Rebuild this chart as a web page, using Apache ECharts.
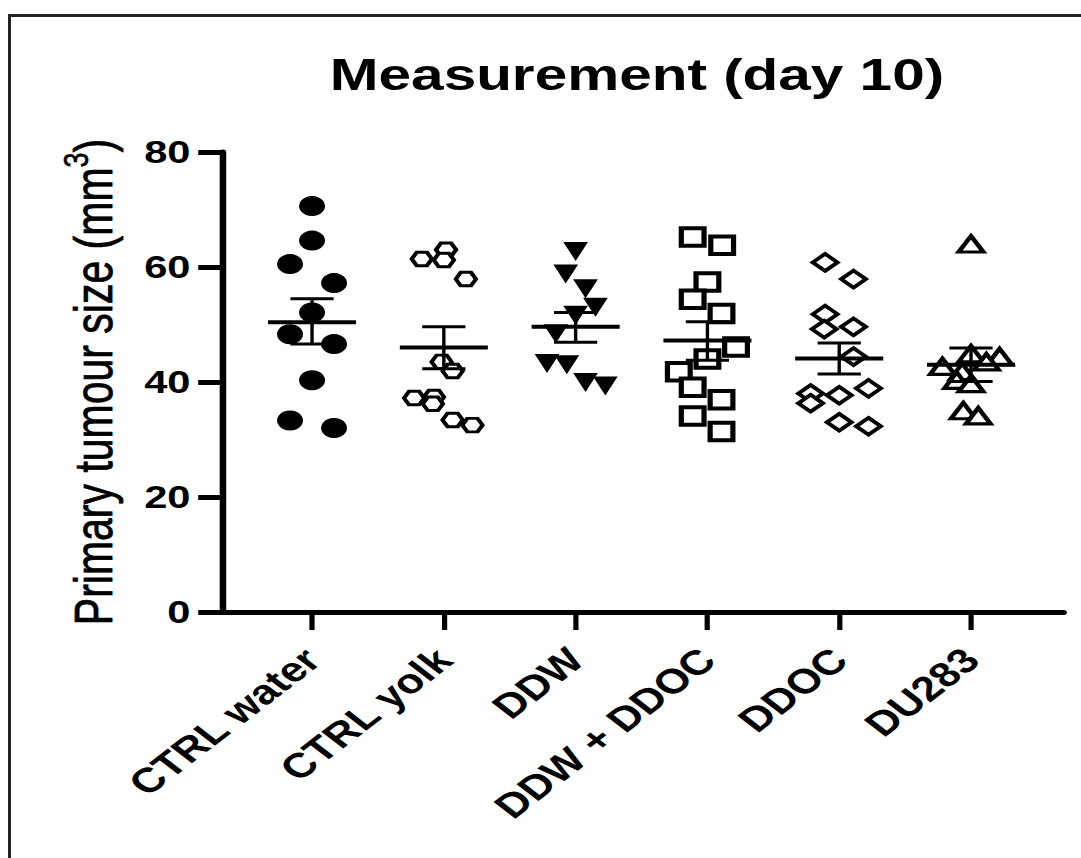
<!DOCTYPE html>
<html>
<head>
<meta charset="utf-8">
<script src="https://cdn.jsdelivr.net/npm/echarts@6/dist/echarts.min.js"></script>
<style>
html,body{margin:0;padding:0;background:#fff;overflow:hidden;width:1081px;height:858px;}
#frame{position:absolute;left:8px;top:14px;width:1200px;height:900px;border-top:3px solid #222;border-left:3px solid #222;box-sizing:border-box;}
#chart{position:absolute;left:0;top:0;width:832px;height:858px;transform:scaleX(1.3);transform-origin:0 0;}
</style>
</head>
<body>
<div id="frame"></div>
<div id="chart"></div>
<script>
// ---- data ----
const categories = ['CTRL water', 'CTRL yolk', 'DDW', 'DDW + DDOC', 'DDOC', 'DU283'];

const ctrlWater     = [70.6, 64.6, 60.5, 57.2, 52.1, 48.3, 46.6, 40.3, 33.3, 32.0];
const ctrlWaterLane = [0, 0, -1, 1, 0, -1, 1, 0, -1, 1];

const ctrlYolk     = [63.0, 61.4, 61.2, 57.9, 43.5, 41.9, 37.2, 37.4, 36.2, 33.4, 32.5];
const ctrlYolkLane = [0.1, -1, 0, 1, -0.1, 0.4, -1.35, -0.45, -0.5, 0.4, 1.3];

const ddw     = [62.7, 58.8, 56.2, 53.0, 51.6, 48.4, 43.2, 43.0, 39.9, 39.3];
const ddwLane = [0, -0.45, 0.45, 0.9, 0, -0.9, -1.3, -0.4, 0.45, 1.35];

const ddwDdoc     = [65.2, 63.8, 57.4, 54.4, 51.9, 46.1, 44.0, 41.8, 39.1, 36.9, 34.1, 31.4];
const ddwDdocLane = [-0.67, 0.67, 0, -0.67, 0.64, 1.3, 0, -1.3, -0.67, 0.64, -0.67, 0.64];

const ddoc     = [60.8, 57.9, 51.8, 49.2, 49.6, 44.4, 38.0, 36.3, 37.7, 38.9, 33.0, 32.3];
const ddocLane = [-0.64, 0.65, -0.64, -0.68, 0.65, 0.65, -1.3, -1.3, 0, 1.33, 0, 1.33];

const du283     = [64.0, 44.9, 44.4, 43.5, 42.7, 41.8, 40.3, 39.7, 35.0, 34.1];
const du283Lane = [0, 0, 1.3, 0.7, -1.3, -0.4, -0.65, 0, -0.35, 0.33];

const means    = [50.4, 46.0, 49.6, 47.2, 44.1, 43.0];
const semUpper = [54.5, 49.6, 52.1, 50.5, 46.8, 45.9];
const semLower = [46.6, 42.3, 46.9, 43.8, 41.4, 40.1];

const yMin = 0, yMax = 80, yStep = 20;
const titleText = 'Measurement (day 10)';

// ---- styling ----
const FONT = '"Liberation Sans", Arial, Helvetica, sans-serif';
const laneStep = 0.167;
const meanHalf = 0.334;
const capHalf = 0.164;

const groups = [
  {vals: ctrlWater, lane: ctrlWaterLane, symbol: 'circle', size: 20, item: {color: '#000'}},
  {vals: ctrlYolk, lane: ctrlYolkLane, symbol: 'path://M0,43.3L25,0L75,0L100,43.3L75,86.6L25,86.6Z', size: [15.5, 13.5], item: {color: '#fff', borderColor: '#000', borderWidth: 3.2}},
  {vals: ddw, lane: ddwLane, symbol: 'triangle', size: [19, 19], rotate: 180, item: {color: '#000'}},
  {vals: ddwDdoc, lane: ddwDdocLane, symbol: 'rect', size: [17.5, 17.5], item: {color: '#fff', borderColor: '#000', borderWidth: 4}},
  {vals: ddoc, lane: ddocLane, symbol: 'diamond', size: [19, 17], item: {color: '#fff', borderColor: '#000', borderWidth: 3.5}},
  {vals: du283, lane: du283Lane, symbol: 'triangle', size: [19, 16], item: {color: '#fff', borderColor: '#000', borderWidth: 3.5}}
];

const chart = echarts.init(document.getElementById('chart'), null, {renderer: 'svg', width: 832, height: 858});

const series = groups.map((g, i) => ({
  type: 'scatter',
  name: categories[i],
  data: g.vals.map((v, k) => [i + g.lane[k] * laneStep, v]),
  symbol: g.symbol,
  symbolSize: g.size,
  symbolRotate: g.rotate || 0,
  itemStyle: Object.assign({opacity: 1}, g.item),
  emphasis: {disabled: true},
  z: 2
}));

series.push({
  type: 'custom',
  name: 'mean ± SEM',
  data: categories.map((c, i) => [i, means[i], semUpper[i], semLower[i]]),
  encode: {x: 0, y: 1},
  z: 3,
  renderItem: function (params, api) {
    const i = api.value(0), m = api.value(1), hi = api.value(2), lo = api.value(3);
    const a = api.coord([i - meanHalf, m]), b = api.coord([i + meanHalf, m]);
    const t = api.coord([i, hi]), bt = api.coord([i, lo]);
    const tl = api.coord([i - capHalf, hi]), tr = api.coord([i + capHalf, hi]);
    const bl = api.coord([i - capHalf, lo]), br = api.coord([i + capHalf, lo]);
    const st = (w) => ({stroke: '#000', lineWidth: w, fill: null});
    return {
      type: 'group',
      children: [
        {type: 'line', shape: {x1: t[0], y1: t[1], x2: bt[0], y2: bt[1]}, style: st(2.6)},
        {type: 'line', shape: {x1: tl[0], y1: tl[1], x2: tr[0], y2: tr[1]}, style: st(3)},
        {type: 'line', shape: {x1: bl[0], y1: bl[1], x2: br[0], y2: br[1]}, style: st(3)},
        {type: 'line', shape: {x1: a[0], y1: a[1], x2: b[0], y2: b[1]}, style: st(4)}
      ]
    };
  }
});

chart.setOption({
  animation: false,
  backgroundColor: 'transparent',
  title: {
    text: titleText,
    left: 490,
    top: 52,
    textAlign: 'center',
    padding: 0,
    textStyle: {fontFamily: FONT, fontSize: 45, fontWeight: 'bold', color: '#000'}
  },
  grid: {left: 171.5, right: 13.8, top: 152, bottom: 246, containLabel: false, outerBoundsMode: 'none'},
  xAxis: {
    type: 'value',
    min: -0.676,
    max: 5.703,
    splitLine: {show: false},
    axisLine: {show: true, onZero: false, lineStyle: {color: '#000', width: 5}},
    axisTick: {show: true, length: 18, lineStyle: {color: '#000', width: 4}, customValues: [0, 1, 2, 3, 4, 5]},
    axisLabel: {
      customValues: [0, 1, 2, 3, 4, 5],
      formatter: (v) => categories[Math.round(v)],
      rotate: 45,
      margin: 42,
      fontFamily: FONT, fontSize: 34.5, fontWeight: 'bold', color: '#000'
    }
  },
  yAxis: {
    type: 'value',
    min: yMin,
    max: yMax,
    interval: yStep,
    name: '{n|Primary tumour size (mm}{s|3}{n|)}',
    nameLocation: 'middle',
    nameGap: 73,
    nameTextStyle: {
      fontFamily: FONT, fontSize: 41, color: '#000',
      rich: {
        n: {fontFamily: FONT, fontSize: 41, color: '#000', lineHeight: 53, textBorderColor: '#000', textBorderWidth: 0.6},
        s: {fontFamily: FONT, fontSize: 27, color: '#000', verticalAlign: 'top', lineHeight: 53, textBorderColor: '#000', textBorderWidth: 0.5}
      }
    },
    splitLine: {show: false},
    axisLine: {show: true, onZero: false, lineStyle: {color: '#000', width: 5}},
    axisTick: {show: true, length: 19, lineStyle: {color: '#000', width: 5}},
    axisLabel: {margin: 25, fontFamily: FONT, fontSize: 32, fontWeight: 'bold', color: '#000'}
  },
  series: series
});
</script>
</body>
</html>
